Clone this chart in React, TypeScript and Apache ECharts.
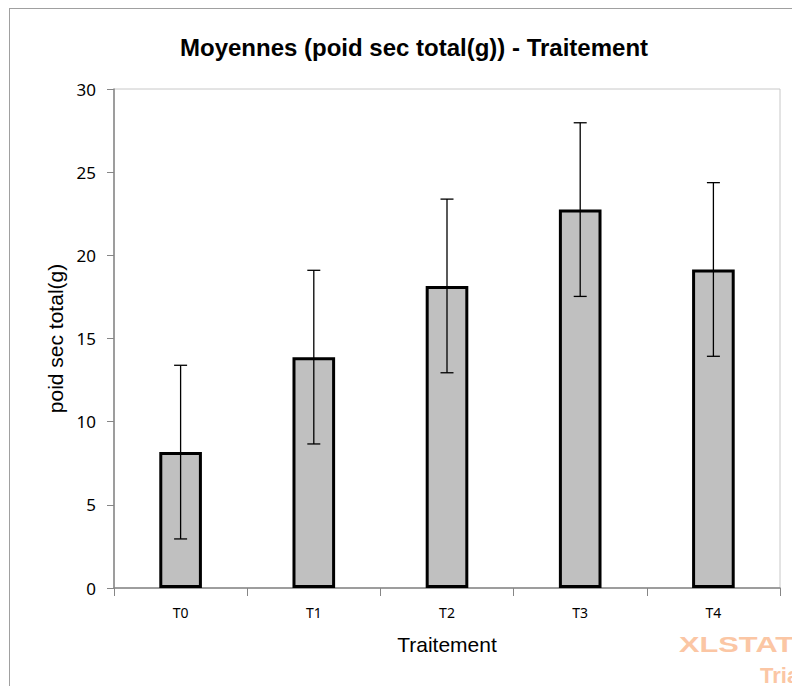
import React, { useEffect, useRef } from "react";
import * as echarts from "echarts";

const categories = ["T0", "T1", "T2", "T3", "T4"];
const means = [8.17, 13.88, 18.16, 22.75, 19.15];
const errHalf = [5.22, 5.22, 5.22, 5.22, 5.22];
const yTicks = { min: 0, max: 30, interval: 5 };

export default function App() {
  const ref = useRef<HTMLDivElement>(null);
  useEffect(() => {
    if (!ref.current) return;
    const chart = echarts.init(ref.current, null, { renderer: "svg" });
    const errData = means.map((m, i) => [i, m - errHalf[i], m + errHalf[i]]);
    chart.setOption({
      animation: false,
      backgroundColor: "#ffffff",
      title: {
        text: "Moyennes (poid sec total(g)) - Traitement",
        left: 401,
        textAlign: "center",
        top: 22,
        textStyle: { fontFamily: "Liberation Sans", fontWeight: "bold", fontSize: 24, color: "#000" },
      },
      graphic: [
        { type: "line", shape: { x1: 1, y1: 0.5, x2: 800, y2: 0.5 }, style: { stroke: "#a0a0a0", lineWidth: 1 } },
        { type: "line", shape: { x1: 1.5, y1: 0, x2: 1.5, y2: 700 }, style: { stroke: "#a0a0a0", lineWidth: 1 } },
        {
          type: "text",
          x: 671,
          y: 637,
          scaleX: 1.4,
          style: {
            text: "XLSTAT",
            fill: "#fbc6a4",
            font: "bold 22px 'Liberation Sans'",
            align: "left",
            verticalAlign: "middle",
          },
        },
        {
          type: "text",
          x: 752,
          y: 667,
          style: {
            text: "Trial",
            fill: "#fbc6a4",
            font: "bold 22px 'Liberation Sans'",
            align: "left",
            verticalAlign: "middle",
          },
        },
      ],
      grid: { left: 106, top: 81, right: 20, bottom: 98, show: true, borderColor: "#c8c8c8", borderWidth: 1 },
      xAxis: {
        type: "category",
        data: categories,
        name: "Traitement",
        nameLocation: "middle",
        nameGap: 46,
        nameTextStyle: { fontFamily: "Liberation Sans", fontSize: 21, color: "#000" },
        axisLine: { lineStyle: { color: "#868686", width: 1.5 } },
        axisTick: { show: true, length: 8, inside: false, lineStyle: { color: "#868686" } },
        axisLabel: { margin: 17, fontFamily: "Noto Sans", fontSize: 14, color: "#000" },
      },
      yAxis: {
        type: "value",
        min: yTicks.min,
        max: yTicks.max,
        interval: yTicks.interval,
        name: "poid sec total(g)",
        nameLocation: "middle",
        nameGap: 46,
        nameTextStyle: { fontFamily: "Liberation Sans", fontSize: 21, color: "#000" },
        splitLine: { show: false },
        axisLine: { show: true, lineStyle: { color: "#868686", width: 1.5 } },
        axisTick: { show: true, length: 7, lineStyle: { color: "#868686" } },
        axisLabel: { margin: 18, fontFamily: "Noto Sans", fontSize: 17, color: "#000" },
      },
      series: [
        {
          type: "bar",
          data: means,
          barWidth: "32%",
          itemStyle: { color: "#c0c0c0", borderColor: "#000", borderWidth: 3 },
        },
        {
          type: "custom",
          data: errData,
          z: 10,
          renderItem: (params: any, api: any) => {
            const x = api.value(0);
            const lo = api.coord([x, api.value(1)]);
            const hi = api.coord([x, api.value(2)]);
            const cap = 6.5;
            const st = { stroke: "#000", lineWidth: 1.3 };
            return {
              type: "group",
              children: [
                { type: "line", shape: { x1: hi[0], y1: hi[1], x2: lo[0], y2: lo[1] }, style: st },
                { type: "line", shape: { x1: hi[0] - cap, y1: hi[1], x2: hi[0] + cap, y2: hi[1] }, style: st },
                { type: "line", shape: { x1: lo[0] - cap, y1: lo[1], x2: lo[0] + cap, y2: lo[1] }, style: st },
              ],
            };
          },
        },
      ],
    });
    return () => chart.dispose();
  }, []);
  return <div ref={ref} style={{ width: 792, height: 678 }} />;
}
